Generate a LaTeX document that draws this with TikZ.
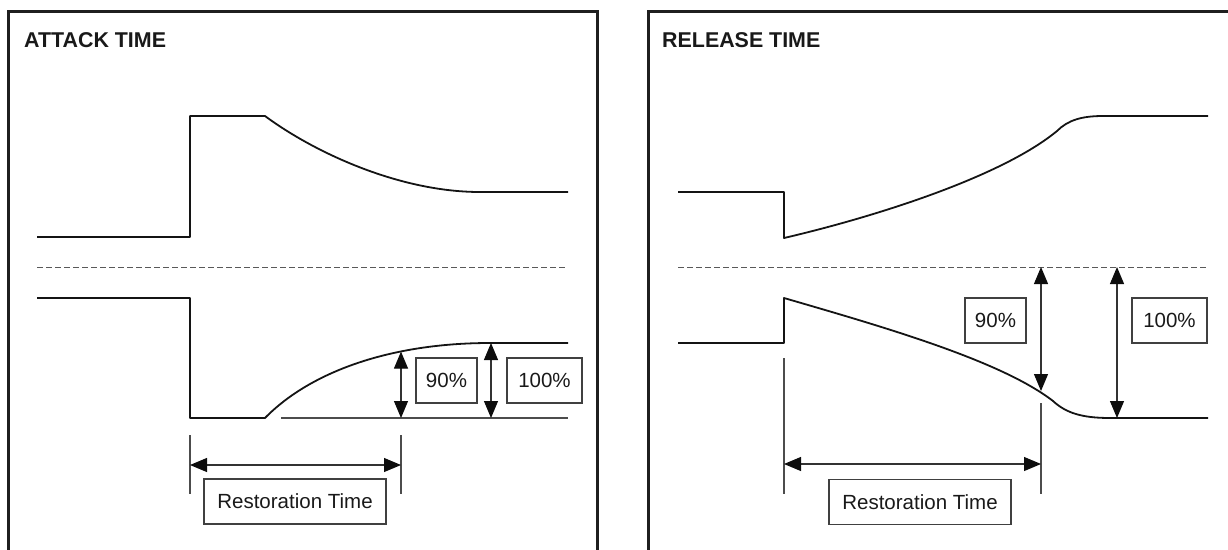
\documentclass[tikz,border=0pt]{standalone}
\usepackage{fontspec}
\setmainfont{Liberation Sans}
\usetikzlibrary{arrows.meta}
\begin{document}
\begin{tikzpicture}[x=1pt,y=-1pt,
  sig/.style={line width=1.8pt, black!92, line join=round},
  thinline/.style={line width=1.1pt, black!70},
  midline/.style={line width=0.8pt, black!65, dash pattern=on 6pt off 3pt},
  dim/.style={line width=1.1pt, black!80, {Triangle[length=17pt,width=14pt,color=black!95]}-{Triangle[length=17pt,width=14pt,color=black!95]}},
  lab/.style={draw=black!75, line width=1.1pt, minimum height=45pt, inner sep=0pt,
    font=\fontsize{20.5}{24}\selectfont, text=black!90, text height=14.7pt, text depth=0pt},
  ttl/.style={font=\fontsize{21.4}{25}\selectfont\bfseries, anchor=base west, inner sep=0pt, text=black!90},
  framebox/.style={line width=3pt, black!88}
]
\useasboundingbox (0,0) rectangle (1228,549);
\begin{scope}
\clip (0,0) rectangle (1228,549);
% frames
\coordinate (fl1) at (8,560);
\coordinate (fl2) at (8,11);
\coordinate (fl3) at (597,11);
\coordinate (fl4) at (597,560);
\draw[framebox] (fl1) -- (fl2) -- (fl3) -- (fl4);
\coordinate (fr1) at (648,560);
\coordinate (fr2) at (648,11);
\coordinate (fr3) at (1240,11);
\draw[framebox] (fr1) -- (fr2) -- (fr3);
\end{scope}

% titles
\node[ttl] (t1) at (24,47) {ATTACK TIME};
\node[ttl] (t2) at (662,47) {RELEASE TIME};

% ===== left panel =====
\coordinate (a0) at (37,237);
\coordinate (a1) at (190,237);
\coordinate (a2) at (190,116);
\coordinate (a3) at (265,116);
\coordinate (a4) at (480,192);
\coordinate (a5) at (568,192);
\draw[sig] (a0) -- (a1) -- (a2) -- (a3) .. controls (315,153) and (400,192) .. (a4) -- (a5);

\coordinate (d0) at (37,267);
\coordinate (d1) at (567,267);
\draw[midline] (d0) -- (d1);

\coordinate (b0) at (37,298);
\coordinate (b1) at (190,298);
\coordinate (b2) at (190,418);
\coordinate (b3) at (265,418);
\coordinate (b4) at (490,343);
\coordinate (b5) at (568,343);
\draw[sig] (b0) -- (b1) -- (b2) -- (b3) .. controls (310,372) and (390,343) .. (b4) -- (b5);

\coordinate (base0) at (281,418);
\coordinate (base1) at (568,418);
\draw[thinline] (base0) -- (base1);

\coordinate (p90t) at (401,351.6);
\coordinate (p90b) at (401,418);
\draw[dim] (p90t) -- (p90b);
\coordinate (p100t) at (491,343);
\coordinate (p100b) at (491,418);
\draw[dim] (p100t) -- (p100b);

\node[lab, minimum width=61pt] (L90) at (446.5,380.5) {90\%};
\node[lab, minimum width=75pt] (L100) at (544.5,380.5) {100\%};

\coordinate (tk1a) at (190,435);
\coordinate (tk1b) at (190,494);
\coordinate (tk2a) at (401,435);
\coordinate (tk2b) at (401,494);
\draw[thinline] (tk1a) -- (tk1b);
\draw[thinline] (tk2a) -- (tk2b);
\coordinate (ra0) at (190,465);
\coordinate (ra1) at (401,465);
\draw[dim] (ra0) -- (ra1);
\node[lab, minimum width=182pt] (LR) at (295,501.5) {Restoration Time};

% ===== right panel =====
\coordinate (c0) at (678,192);
\coordinate (c1) at (784,192);
\coordinate (c2) at (784,238);
\coordinate (c3) at (1057,131);
\coordinate (c4) at (1103,116);
\coordinate (c5) at (1208,116);
\draw[sig] (c0) -- (c1) -- (c2) .. controls (870,218) and (1000,178) .. (c3)
  .. controls (1068,120) and (1082,116) .. (c4) -- (c5);

\coordinate (e0) at (678,267);
\coordinate (e1) at (1207,267);
\draw[midline] (e0) -- (e1);

\coordinate (g0) at (678,343);
\coordinate (g1) at (784,343);
\coordinate (g2) at (784,298);
\coordinate (g3) at (1053,401);
\coordinate (g4) at (1110,418);
\coordinate (g5) at (1208,418);
\draw[sig] (g0) -- (g1) -- (g2) .. controls (880,326) and (1000,360) .. (g3)
  .. controls (1066,413) and (1082,418) .. (g4) -- (g5);

\coordinate (q90t) at (1041,267);
\coordinate (q90b) at (1041,391);
\draw[dim] (q90t) -- (q90b);
\coordinate (q100t) at (1117,267);
\coordinate (q100b) at (1117,418);
\draw[dim] (q100t) -- (q100b);

\node[lab, minimum width=61pt] (R90) at (995.5,320.5) {90\%};
\node[lab, minimum width=75pt] (R100) at (1169.5,320.5) {100\%};

\coordinate (tk3a) at (784,358);
\coordinate (tk3b) at (784,494);
\coordinate (tk4a) at (1041,403);
\coordinate (tk4b) at (1041,494);
\draw[thinline] (tk3a) -- (tk3b);
\draw[thinline] (tk4a) -- (tk4b);
\coordinate (rb0) at (784,464);
\coordinate (rb1) at (1041,464);
\draw[dim] (rb0) -- (rb1);
\node[lab, minimum width=182pt] (RR) at (920,502) {Restoration Time};
\end{tikzpicture}
\end{document}
